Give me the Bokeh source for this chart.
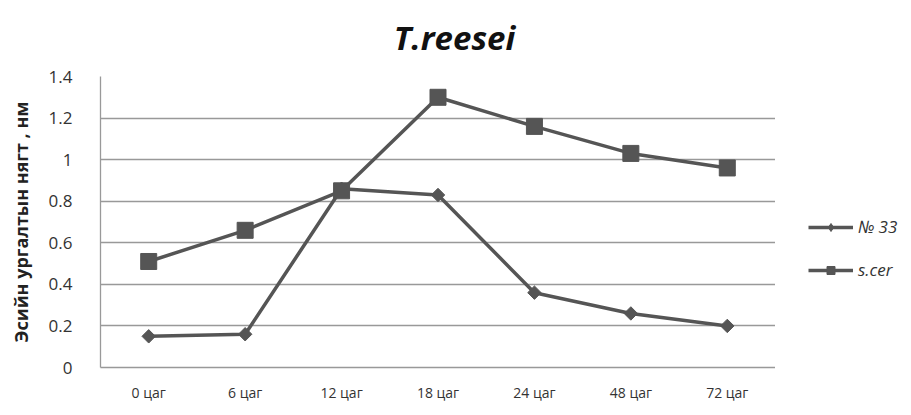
from bokeh.plotting import figure
from bokeh.layouts import row, column
from bokeh.models import Legend, LegendItem, FactorRange, FixedTicker, Label
from bokeh.embed import file_html
from bokeh.resources import INLINE

categories = ["0 цаг", "6 цаг", "12 цаг", "18 цаг", "24 цаг", "48 цаг", "72 цаг"]
no33 = [0.15, 0.16, 0.86, 0.83, 0.36, 0.26, 0.20]
scer = [0.51, 0.66, 0.85, 1.30, 1.16, 1.03, 0.96]
series_names = ["№ 33", "s.cer"]
chart_title = "T.reesei"
yticks = [0, 0.2, 0.4, 0.6, 0.8, 1.0, 1.2, 1.4]
ytick_labels = {0: "0", 0.2: "0.2", 0.4: "0.4", 0.6: "0.6", 0.8: "0.8", 1.0: "1", 1.2: "1.2", 1.4: "1.4"}

COL = "#555555"
NAN = float("nan")

# title strip
tf = figure(width=905, height=50, x_range=(0, 1), y_range=(0, 1), output_backend="svg",
            toolbar_location=None, x_axis_location=None, y_axis_location=None,
            min_border_left=0, min_border_right=0, min_border_top=0, min_border_bottom=0)
tf.outline_line_color = None
tf.grid.visible = False
tf.add_layout(Label(x=454 / 905, y=0.266, text=chart_title, text_align="center",
                    text_baseline="alphabetic", text_font="Open Sans",
                    text_font_style="bold italic", text_font_size="33px", text_color="#111111"))

p = figure(frame_width=675, frame_height=291, x_range=FactorRange(*categories, range_padding=0),
           y_range=(0, 1.4), output_backend="svg", toolbar_location=None,
           min_border_left=100, min_border_right=0, min_border_top=26, min_border_bottom=32)

p.outline_line_color = None
p.xgrid.grid_line_color = None
p.ygrid.grid_line_color = "#999999"
p.ygrid.grid_line_width = 1.3

p.yaxis.ticker = FixedTicker(ticks=yticks)
p.yaxis.major_label_overrides = ytick_labels
p.yaxis.major_tick_line_color = None
p.yaxis.minor_tick_line_color = None
p.yaxis.axis_line_color = "#999999"
p.yaxis.axis_line_width = 1.3
p.yaxis.major_label_standoff = 22
p.yaxis.major_label_text_font = "Open Sans"
p.yaxis.major_label_text_font_size = "17px"
p.yaxis.major_label_text_color = "#333333"
p.yaxis.axis_label = "Эсийн ургалтын нягт , нм"
p.yaxis.axis_label_text_font = "Open Sans"
p.yaxis.axis_label_text_font_style = "bold"
p.yaxis.axis_label_text_font_size = "18px"
p.yaxis.axis_label_text_color = "#222222"
p.yaxis.axis_label_standoff = 13

p.xaxis.major_tick_line_color = None
p.xaxis.minor_tick_line_color = None
p.xaxis.axis_line_color = "#999999"
p.xaxis.axis_line_width = 1.3
p.xaxis.major_label_standoff = 9
p.xaxis.major_label_text_font = "Open Sans"
p.xaxis.major_label_text_font_size = "14px"
p.xaxis.major_label_text_color = "#333333"

p.line(categories, no33, line_color=COL, line_width=3.5)
p.scatter(categories, no33, marker="square", angle=0.785398, size=9.5,
          fill_color=COL, line_color=COL)
p.line(categories, scer, line_color=COL, line_width=3.5)
p.scatter(categories, scer, marker="square", size=16, fill_color=COL, line_color=COL)

# legend panel (key only; NaN points are never drawn in the frame)
lg = figure(width=130, height=349, x_range=(0, 1), y_range=(0, 1), output_backend="svg",
            toolbar_location=None, x_axis_location=None, y_axis_location=None,
            min_border_left=0, min_border_right=0, min_border_top=0, min_border_bottom=0)
lg.outline_line_color = None
lg.grid.visible = False
kl1 = lg.line(x=[NAN], y=[NAN], line_color=COL, line_width=3.5)
km1 = lg.scatter(x=[NAN], y=[NAN], marker="diamond", size=15, fill_color=COL, line_color=COL)
kl2 = lg.line(x=[NAN], y=[NAN], line_color=COL, line_width=3.5)
km2 = lg.scatter(x=[NAN], y=[NAN], marker="square", size=15, fill_color=COL, line_color=COL)

legend = Legend(items=[LegendItem(label=series_names[0], renderers=[kl1, km1]),
                       LegendItem(label=series_names[1], renderers=[kl2, km2])],
                location=(33, 81), orientation="vertical",
                border_line_color=None, background_fill_alpha=0,
                padding=0, margin=0, spacing=20, glyph_width=45, glyph_height=20,
                label_height=20, label_standoff=5,
                label_text_font="Open Sans", label_text_font_style="italic",
                label_text_font_size="17px", label_text_color="#333333")
lg.add_layout(legend, "center")

open("out.html", "w").write(file_html(column(tf, row(p, lg)), INLINE))
